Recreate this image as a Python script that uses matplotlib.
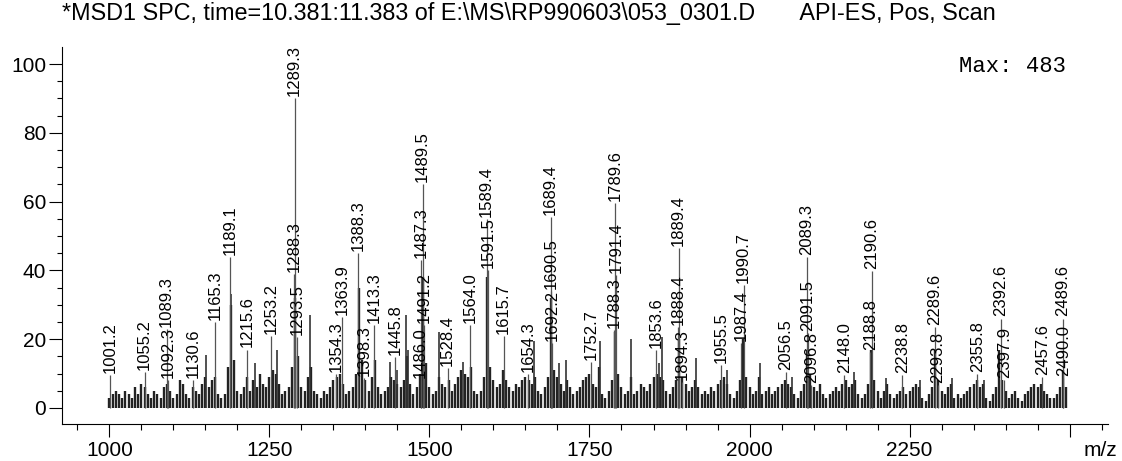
import numpy as np
import matplotlib
matplotlib.use('Agg')
import matplotlib.pyplot as plt
from matplotlib.ticker import FixedLocator, MultipleLocator

plt.rcParams['font.family'] = ['Liberation Sans', 'DejaVu Sans']

# Picos etiquetados (m/z y altura relativa)
label_mz = [1001.2, 1055.2, 1089.3, 1092.3, 1130.6, 1165.3, 1189.1, 1215.6, 1253.2,
            1288.3, 1289.3, 1293.5, 1354.3, 1363.9, 1388.3, 1398.3, 1413.3, 1445.8,
            1486.0, 1487.3, 1489.5, 1491.2, 1528.4, 1564.0, 1589.4, 1591.5, 1615.7,
            1654.3, 1689.4, 1690.5, 1692.2, 1752.7, 1788.3, 1789.6, 1791.4, 1853.6,
            1888.4, 1889.4, 1894.3, 1955.5, 1987.4, 1990.7, 2056.5, 2089.3, 2091.5,
            2096.8, 2148.0, 2188.8, 2190.6, 2238.8, 2289.6, 2293.8, 2355.8, 2392.6,
            2397.9, 2457.6, 2489.6, 2490.0]
label_h = [9.6, 10.5, 23, 8, 8, 25, 44, 17, 21,
           39, 90, 20.6, 10, 26.5, 45, 8.7, 24, 14.8,
           8, 43, 65, 24, 11.6, 24, 55, 40, 21,
           10, 55.6, 34, 19, 13.4, 22.7, 59.6, 38.7, 16.9,
           23.5, 46.5, 7.6, 12.5, 19, 35.7, 10.5, 44, 21.8,
           6.7, 9.6, 16.3, 39.7, 9.6, 23.5, 6.7, 10, 26,
           8, 9, 26, 8.7]

# Picos sin etiqueta que sobresalen
minor_mz = [1151.6, 1190.5, 1227, 1262, 1313.5, 1439, 1450, 1464, 1466, 1514.5,
            1552, 1664, 1702, 1714, 1766, 1815, 1858, 1864, 1917, 1965,
            2016, 2066, 2164, 2213.5, 2266, 2317, 2366]
minor_h = [15.4, 33, 13, 16.8, 27, 13.5, 11, 27, 17, 22.2,
           13.5, 19.5, 13, 14, 19.5, 20, 13, 20.5, 14.5, 11,
           13, 9, 10.5, 8.6, 8, 8.6, 8]

# Ruido de fondo, un valor cada 5 unidades de m/z (1000 ... 2495)
noise_h = [
    3, 4, 5, 4, 3, 5, 4, 3, 6, 4, 7, 6, 4, 3, 5, 4, 3, 6, 7, 5,
    3, 4, 8, 7, 4, 3, 6, 5, 4, 7, 9, 6, 8, 9, 4, 3, 4, 12, 30, 14,
    5, 4, 6, 9, 5, 8, 6, 10, 7, 6, 9, 11, 10, 7, 4, 5, 6, 12, 32, 15,
    6, 5, 9, 12, 5, 4, 3, 5, 4, 6, 8, 9, 10, 7, 4, 5, 6, 10, 35, 14,
    8, 5, 9, 14, 6, 4, 5, 6, 9, 8, 7, 6, 8, 15, 7, 4, 6, 10, 38, 13,
    6, 4, 5, 9, 7, 6, 8, 5, 7, 9, 11, 10, 9, 12, 5, 4, 5, 9, 38, 12,
    8, 6, 7, 11, 8, 6, 5, 7, 6, 8, 9, 8, 7, 9, 5, 4, 6, 9, 32, 11,
    9, 7, 5, 8, 6, 4, 5, 6, 8, 9, 10, 7, 6, 12, 4, 3, 5, 8, 22, 10,
    6, 4, 5, 9, 4, 5, 7, 6, 5, 7, 9, 10, 9, 8, 5, 4, 6, 8, 20, 9,
    7, 5, 6, 8, 6, 4, 5, 4, 6, 5, 7, 8, 9, 7, 4, 3, 5, 8, 20, 9,
    6, 4, 5, 9, 4, 5, 6, 4, 5, 6, 7, 8, 7, 6, 4, 3, 5, 7, 17, 10,
    6, 5, 7, 4, 3, 4, 5, 6, 5, 7, 8, 6, 7, 8, 4, 3, 4, 7, 17, 8,
    5, 3, 5, 7, 4, 3, 4, 5, 6, 4, 5, 6, 7, 6, 3, 2, 4, 6, 17, 8,
    5, 4, 6, 7, 3, 4, 3, 4, 5, 6, 7, 8, 6, 7, 3, 2, 4, 6, 17, 8,
    5, 3, 4, 5, 3, 2, 4, 5, 6, 7, 6, 7, 5, 4, 3, 3, 4, 6, 11, 6,
]
noise_mz = np.arange(1000, 2500, 5)

x_ticks = [1000, 1250, 1500, 1750, 2000, 2250, 2500]
x_tick_labels = ['1000', '1250', '1500', '1750', '2000', '2250', '']

fig = plt.figure(figsize=(11.22, 4.61), dpi=100)
ax = fig.add_axes([0.0553, 0.0803, 0.9322, 0.8178])

ax.vlines(noise_mz, 0, noise_h, colors='#222222', linewidth=1.7)
ax.vlines(minor_mz, 0, minor_h, colors='#333333', linewidth=1.2)
ax.vlines(label_mz, 0, label_h, colors='#555555', linewidth=0.9)

for mz, h in zip(label_mz, label_h):
    ax.annotate(f'{mz:.1f}', xy=(mz, h), xytext=(0, 1.5), textcoords='offset points',
                rotation=90, ha='center', va='bottom', fontsize=12)

ax.set_xlim(926, 2560)
ax.set_ylim(-4.65, 104.95)

ax.spines['top'].set_visible(False)
ax.spines['right'].set_visible(False)

ax.xaxis.set_major_locator(FixedLocator(x_ticks))
ax.set_xticklabels(x_tick_labels)
ax.xaxis.set_minor_locator(FixedLocator(np.arange(950, 2600, 50)))
ax.yaxis.set_major_locator(MultipleLocator(20))
ax.yaxis.set_minor_locator(MultipleLocator(5))
ax.tick_params(axis='x', which='major', length=9, width=0.8, labelsize=15, pad=3)
ax.tick_params(axis='x', which='minor', length=4.5, width=0.8)
ax.tick_params(axis='y', which='major', length=9.5, width=0.8, labelsize=15, pad=2)
ax.tick_params(axis='y', which='minor', length=3.6, width=0.8)

ax.text(0.96, 0.947, 'Max: 483', transform=ax.transAxes, ha='right', va='center',
        fontsize=16, family='Liberation Mono')
fig.text(0.981, 0.022, 'm/z', ha='center', va='center', fontsize=15)
fig.text(0.0553, 0.97, r'*MSD1 SPC, time=10.381:11.383 of E:\MS\RP990603\053_0301.D       API-ES, Pos, Scan',
         ha='left', va='center', fontsize=16.8)

fig.savefig('out.png', dpi=100)
